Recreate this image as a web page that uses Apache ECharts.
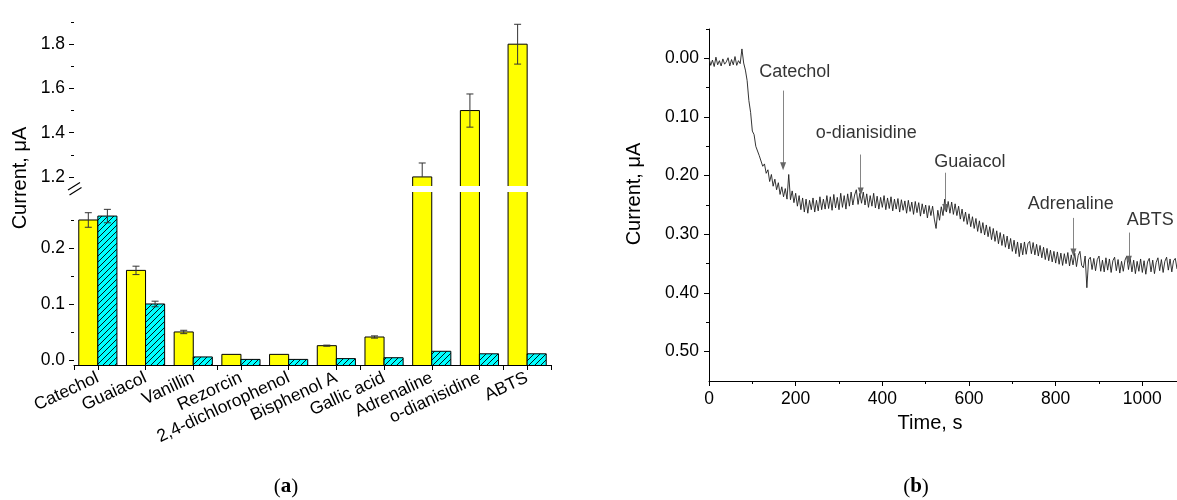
<!DOCTYPE html>
<html><head><meta charset="utf-8">
<script src="https://cdn.jsdelivr.net/npm/echarts@6/dist/echarts.min.js"></script>
<style>html,body{margin:0;padding:0;background:#fff}#c{width:1177px;height:500px}</style>
</head><body><div id="c"></div>
<script>
// ---------- (a) bar chart data ----------
const categories = ['Catechol','Guaiacol','Vanillin','Rezorcin','2,4-dichlorophenol','Bisphenol A','Gallic acid','Adrenaline','o-dianisidine','ABTS'];
const yellowValues = [0.250, 0.160, 0.050, 0.010, 0.010, 0.0255, 0.041, 1.200, 1.500, 1.800];
const yellowErrUp   = [0.013, 0.0075, 0.003, 0, 0, 0.001, 0.002, 0.063, 0.075, 0.090];
const yellowErrDown = [0.013, 0.0075, 0.003, 0, 0, 0.001, 0.002, 0, 0.075, 0.090];
const cyanValues = [0.257, 0.100, 0.0054, 0.001, 0.001, 0.0024, 0.004, 0.0155, 0.011, 0.011];
const cyanErr    = [0.012, 0.005, 0, 0, 0, 0, 0, 0, 0, 0];
const lowerTicks = [0, 0.1, 0.2];
const lowerMinorTicks = [0.05, 0.15, 0.25];
const upperTicks = [1.2, 1.4, 1.6, 1.8];
const upperMinorTicks = [1.3, 1.5, 1.7, 1.9];

// ---------- (b) amperometric trace data ----------
const timeStep = 4; // s between samples
const currentTrace = [
 0.000,0.012,0.003,0.014,-0.002,0.011,0.004,0.013,0.001,0.010,
 0.006,-0.001,0.013,0.002,0.011,-0.003,0.012,0.004,0.009,-0.016,
 0.008,0.020,0.038,0.072,0.092,0.124,0.130,0.150,0.148,0.166,
 0.165,0.184,0.180,0.196,0.190,0.210,0.198,0.218,0.206,0.224,
 0.212,0.232,0.219,0.236,0.222,0.240,0.198,0.241,0.226,0.246,
 0.230,0.252,0.234,0.258,0.238,0.262,0.240,0.264,0.242,0.258,
 0.238,0.262,0.242,0.260,0.236,0.258,0.240,0.257,0.234,0.256,
 0.236,0.259,0.232,0.255,0.237,0.258,0.230,0.254,0.234,0.257,
 0.231,0.252,0.228,0.250,0.233,0.224,0.249,0.230,0.247,0.228,
 0.250,0.231,0.254,0.234,0.252,0.230,0.255,0.235,0.257,0.237,
 0.254,0.234,0.258,0.238,0.256,0.236,0.260,0.240,0.257,0.239,
 0.262,0.241,0.259,0.243,0.264,0.242,0.261,0.245,0.266,0.244,
 0.263,0.246,0.269,0.248,0.265,0.250,0.272,0.251,0.268,0.252,
 0.274,0.290,0.259,0.276,0.253,0.268,0.240,0.262,0.244,0.264,
 0.245,0.266,0.248,0.268,0.252,0.274,0.257,0.278,0.262,0.283,
 0.265,0.287,0.270,0.290,0.273,0.295,0.277,0.298,0.280,0.301,
 0.284,0.304,0.287,0.309,0.290,0.312,0.294,0.316,0.297,0.319,
 0.300,0.322,0.303,0.325,0.307,0.329,0.310,0.333,0.313,0.338,
 0.315,0.335,0.313,0.334,0.316,0.312,0.333,0.314,0.335,0.317,
 0.337,0.319,0.340,0.322,0.343,0.324,0.345,0.327,0.347,0.329,
 0.349,0.330,0.351,0.332,0.353,0.333,0.350,0.331,0.354,0.335,
 0.352,0.332,0.355,0.336,0.329,0.353,0.357,0.337,0.391,0.343,
 0.339,0.360,0.341,0.362,0.343,0.337,0.363,0.344,0.364,0.340,
 0.361,0.342,0.365,0.345,0.339,0.362,0.343,0.366,0.346,0.363,
 0.344,0.337,0.360,0.341,0.364,0.344,0.367,0.346,0.363,0.342,
 0.365,0.345,0.368,0.347,0.341,0.364,0.344,0.367,0.348,0.340,
 0.362,0.343,0.365,0.346,0.339,0.361,0.342,0.364,0.345,0.341,
 0.359
];
const timeTicks = [0, 200, 400, 600, 800, 1000];
const timeMinorTicks = [100, 300, 500, 700, 900];
const traceTicks = [0, 0.1, 0.2, 0.3, 0.4, 0.5];
const traceMinorTicks = [-0.05, 0.05, 0.15, 0.25, 0.35, 0.45];
// additions: arrow time, arrow start/end current, label position (data units)
const additionNames = ['Catechol','o-dianisidine','Guaiacol','Adrenaline','ABTS'];
const additionTimes = [171, 350, 545, 841, 969];
const arrowFrom = [0.055, 0.164, 0.195, 0.272, 0.297];
const arrowTo   = [0.184, 0.227, 0.255, 0.331, 0.3435];
const labelTimes = [198, 363, 602, 835, 1018];
const labelCurrents = [0.024, 0.127, 0.176, 0.248, 0.275];

const FONT = '"Liberation Sans", Arial, sans-serif';
const chart = echarts.init(document.getElementById('c'), null, {renderer: 'canvas'});

function makeHatch() {
  const s = 6, c = document.createElement('canvas');
  c.width = s; c.height = s;
  const g = c.getContext('2d');
  g.fillStyle = '#00FFFF'; g.fillRect(0, 0, s, s);
  g.strokeStyle = '#000'; g.lineWidth = 0.9;
  g.beginPath();
  g.moveTo(0, s); g.lineTo(s, 0);
  g.moveTo(-1, 1); g.lineTo(1, -1);
  g.moveTo(s - 1, s + 1); g.lineTo(s + 1, s - 1);
  g.stroke();
  return c;
}
const hatch = makeHatch();

function barRenderer(side, fill) {
  return function (params, api) {
    const idx = api.value(0), val = api.value(1), eu = api.value(2), ed = api.value(3);
    const cs = params.coordSys;
    const top = cs.y, bottom = cs.y + cs.height;
    const band = api.size([1, 0])[0];
    const w = band * 0.4;
    const cx = api.coord([idx, val])[0];
    const x0 = side < 0 ? cx - w : cx, x1 = x0 + w;
    let yTop = api.coord([idx, val])[1];
    const children = [];
    if (yTop < bottom) {
      const clipped = yTop < top;
      if (clipped) yTop = top;
      children.push({type: 'rect', shape: {x: x0, y: yTop, width: w, height: bottom - yTop},
        style: {fill: fill, stroke: null}});
      if (clipped) {
        children.push({type: 'line', shape: {x1: x0, y1: yTop, x2: x0, y2: bottom}, style: {stroke: '#000', lineWidth: 1}});
        children.push({type: 'line', shape: {x1: x1, y1: yTop, x2: x1, y2: bottom}, style: {stroke: '#000', lineWidth: 1}});
      } else {
        children.push({type: 'polyline', shape: {points: [[x0, bottom], [x0, yTop], [x1, yTop], [x1, bottom]]},
          style: {stroke: '#000', lineWidth: 1, fill: null}});
      }
    }
    // error bar
    const yHi = api.coord([idx, val + eu])[1];
    const yLo = api.coord([idx, val - ed])[1];
    const a = Math.max(yHi, top), b = Math.min(yLo, bottom);
    if ((eu > 0 || ed > 0) && b > a) {
      const ex = x0 + w / 2, cap = 3.5;
      const es = {stroke: '#333', lineWidth: 1};
      children.push({type: 'line', shape: {x1: ex, y1: a, x2: ex, y2: b}, style: es});
      if (eu > 0 && yHi >= top && yHi <= bottom) children.push({type: 'line', shape: {x1: ex - cap, y1: yHi, x2: ex + cap, y2: yHi}, style: es});
      if (ed > 0 && yLo >= top && yLo <= bottom) children.push({type: 'line', shape: {x1: ex - cap, y1: yLo, x2: ex + cap, y2: yLo}, style: es});
    }
    return {type: 'group', children: children};
  };
}

const yellowData = categories.map((c, i) => [i, yellowValues[i], yellowErrUp[i], yellowErrDown[i]]);
const cyanData = categories.map((c, i) => [i, cyanValues[i], cyanErr[i], cyanErr[i]]);
const traceData = currentTrace.map((v, i) => [i * timeStep, v]);

const tickLabel = {color: '#000', fontSize: 17.5, fontFamily: FONT};
const blackLine = {onZero: false, lineStyle: {color: '#000', width: 1}};

const option = {
  animation: false,
  backgroundColor: '#fff',
  grid: [
    {left: 74, top: 192, width: 477, height: 173},   // (a) lower part
    {left: 74, top: 13, width: 477, height: 173},    // (a) upper part
    {left: 709, top: 29, width: 468, height: 352}    // (b)
  ],
  xAxis: [
    {gridIndex: 0, type: 'category', data: categories, position: 'bottom',
     axisLine: blackLine, axisTick: {show: true, length: 5, lineStyle: {color: '#000'}}, axisLabel: {show: false}},
    {gridIndex: 0, type: 'category', data: categories, position: 'bottom',
     axisLine: {show: false, onZero: false}, axisTick: {show: true, alignWithLabel: true, length: 5, lineStyle: {color: '#000'}},
     axisLabel: Object.assign({interval: 0, rotate: 25, margin: 12}, tickLabel)},
    {gridIndex: 1, type: 'category', data: categories, show: false, axisLine: {onZero: false}},
    {gridIndex: 2, type: 'value', min: 0, max: 1080, position: 'bottom',
     axisLine: blackLine, splitLine: {show: false},
     axisTick: {show: true, length: 5, customValues: timeTicks, lineStyle: {color: '#000'}},
     axisLabel: Object.assign({customValues: timeTicks, margin: 9, formatter: v => String(v)}, tickLabel)},
    {gridIndex: 2, type: 'value', min: 0, max: 1080, position: 'bottom',
     axisLine: {show: false, onZero: false}, splitLine: {show: false},
     axisTick: {show: true, length: 3, customValues: timeMinorTicks, lineStyle: {color: '#000'}},
     axisLabel: {show: false}}
  ],
  yAxis: [
    {gridIndex: 0, type: 'value', min: -0.009, max: 0.30, position: 'left',
     axisLine: blackLine, splitLine: {show: false},
     axisTick: {show: true, length: 5, customValues: lowerTicks, lineStyle: {color: '#000'}},
     axisLabel: Object.assign({customValues: lowerTicks, margin: 9, formatter: v => v.toFixed(1)}, tickLabel)},
    {gridIndex: 0, type: 'value', min: -0.009, max: 0.30, position: 'left',
     axisLine: {show: false, onZero: false}, splitLine: {show: false},
     axisTick: {show: true, length: 3, customValues: lowerMinorTicks, lineStyle: {color: '#000'}},
     axisLabel: {show: false}},
    {gridIndex: 1, type: 'value', min: 1.159, max: 1.941, position: 'left',
     axisLine: blackLine, splitLine: {show: false},
     axisTick: {show: true, length: 5, customValues: upperTicks, lineStyle: {color: '#000'}},
     axisLabel: Object.assign({customValues: upperTicks, margin: 9, formatter: v => v.toFixed(1)}, tickLabel)},
    {gridIndex: 1, type: 'value', min: 1.159, max: 1.941, position: 'left',
     axisLine: {show: false, onZero: false}, splitLine: {show: false},
     axisTick: {show: true, length: 3, customValues: upperMinorTicks, lineStyle: {color: '#000'}},
     axisLabel: {show: false}},
    {gridIndex: 2, type: 'value', min: -0.05, max: 0.55, inverse: true, position: 'left',
     axisLine: blackLine, splitLine: {show: false},
     axisTick: {show: true, length: 5, customValues: traceTicks, lineStyle: {color: '#000'}},
     axisLabel: Object.assign({customValues: traceTicks, margin: 10, formatter: v => v.toFixed(2)}, tickLabel)},
    {gridIndex: 2, type: 'value', min: -0.05, max: 0.55, inverse: true, position: 'left',
     axisLine: {show: false, onZero: false}, splitLine: {show: false},
     axisTick: {show: true, length: 3, customValues: traceMinorTicks, lineStyle: {color: '#000'}},
     axisLabel: {show: false}}
  ],
  series: [
    {type: 'custom', xAxisIndex: 0, yAxisIndex: 0, data: yellowData, renderItem: barRenderer(-1, '#FFFF00'), encode: {x: 0, y: 1}, silent: true},
    {type: 'custom', xAxisIndex: 0, yAxisIndex: 0, data: cyanData, renderItem: barRenderer(1, {image: hatch, repeat: 'repeat'}), encode: {x: 0, y: 1}, silent: true},
    {type: 'custom', xAxisIndex: 2, yAxisIndex: 2, data: yellowData, renderItem: barRenderer(-1, '#FFFF00'), encode: {x: 0, y: 1}, silent: true},
    {type: 'custom', xAxisIndex: 2, yAxisIndex: 2, data: cyanData, renderItem: barRenderer(1, {image: hatch, repeat: 'repeat'}), encode: {x: 0, y: 1}, silent: true},
    {type: 'line', xAxisIndex: 3, yAxisIndex: 4, data: traceData, showSymbol: false, silent: true,
     lineStyle: {color: '#1e1e1e', width: 0.9}, z: 3,
     markLine: {silent: true, symbol: ['none', 'triangle'], symbolSize: [6, 8],
       lineStyle: {color: '#666', width: 0.8, type: 'solid'}, label: {show: false},
       data: additionNames.map((n, i) => [{coord: [additionTimes[i], arrowFrom[i]]}, {coord: [additionTimes[i], arrowTo[i]], itemStyle: {color: '#000'}}])}},
    {type: 'scatter', xAxisIndex: 3, yAxisIndex: 4, silent: true, symbolSize: 1, itemStyle: {color: 'rgba(0,0,0,0)'},
     data: additionNames.map((n, i) => ({name: n, value: [labelTimes[i], labelCurrents[i]]})),
     label: {show: true, position: 'inside', formatter: '{b}', color: '#000', fontSize: 18, fontFamily: FONT}}
  ],
  graphic: [
    {type: 'text', x: 20, y: 178, rotation: Math.PI / 2,
     style: {text: 'Current, μA', font: '20px ' + FONT, fill: '#000', align: 'center', verticalAlign: 'middle'}},
    {type: 'text', x: 634, y: 194, rotation: Math.PI / 2,
     style: {text: 'Current, μA', font: '20px ' + FONT, fill: '#000', align: 'center', verticalAlign: 'middle'}},
    {type: 'text', x: 930, y: 423,
     style: {text: 'Time, s', font: '20px ' + FONT, fill: '#000', align: 'center', verticalAlign: 'middle'}},
    {type: 'line', shape: {x1: 68, y1: 190, x2: 80, y2: 182.5}, style: {stroke: '#000', lineWidth: 1.2}},
    {type: 'line', shape: {x1: 69.5, y1: 195, x2: 81.5, y2: 187.5}, style: {stroke: '#000', lineWidth: 1.2}},
    {type: 'text', x: 286, y: 487,
     style: {text: '({b|a})', font: '21px "Liberation Serif", serif', fill: '#000', align: 'center', verticalAlign: 'middle',
       rich: {b: {fontWeight: 'bold', fontSize: 21, fontFamily: '"Liberation Serif", serif'}}}},
    {type: 'text', x: 916, y: 487,
     style: {text: '({b|b})', font: '21px "Liberation Serif", serif', fill: '#000', align: 'center', verticalAlign: 'middle',
       rich: {b: {fontWeight: 'bold', fontSize: 21, fontFamily: '"Liberation Serif", serif'}}}}
  ]
};
chart.setOption(option);
</script>
</body></html>
